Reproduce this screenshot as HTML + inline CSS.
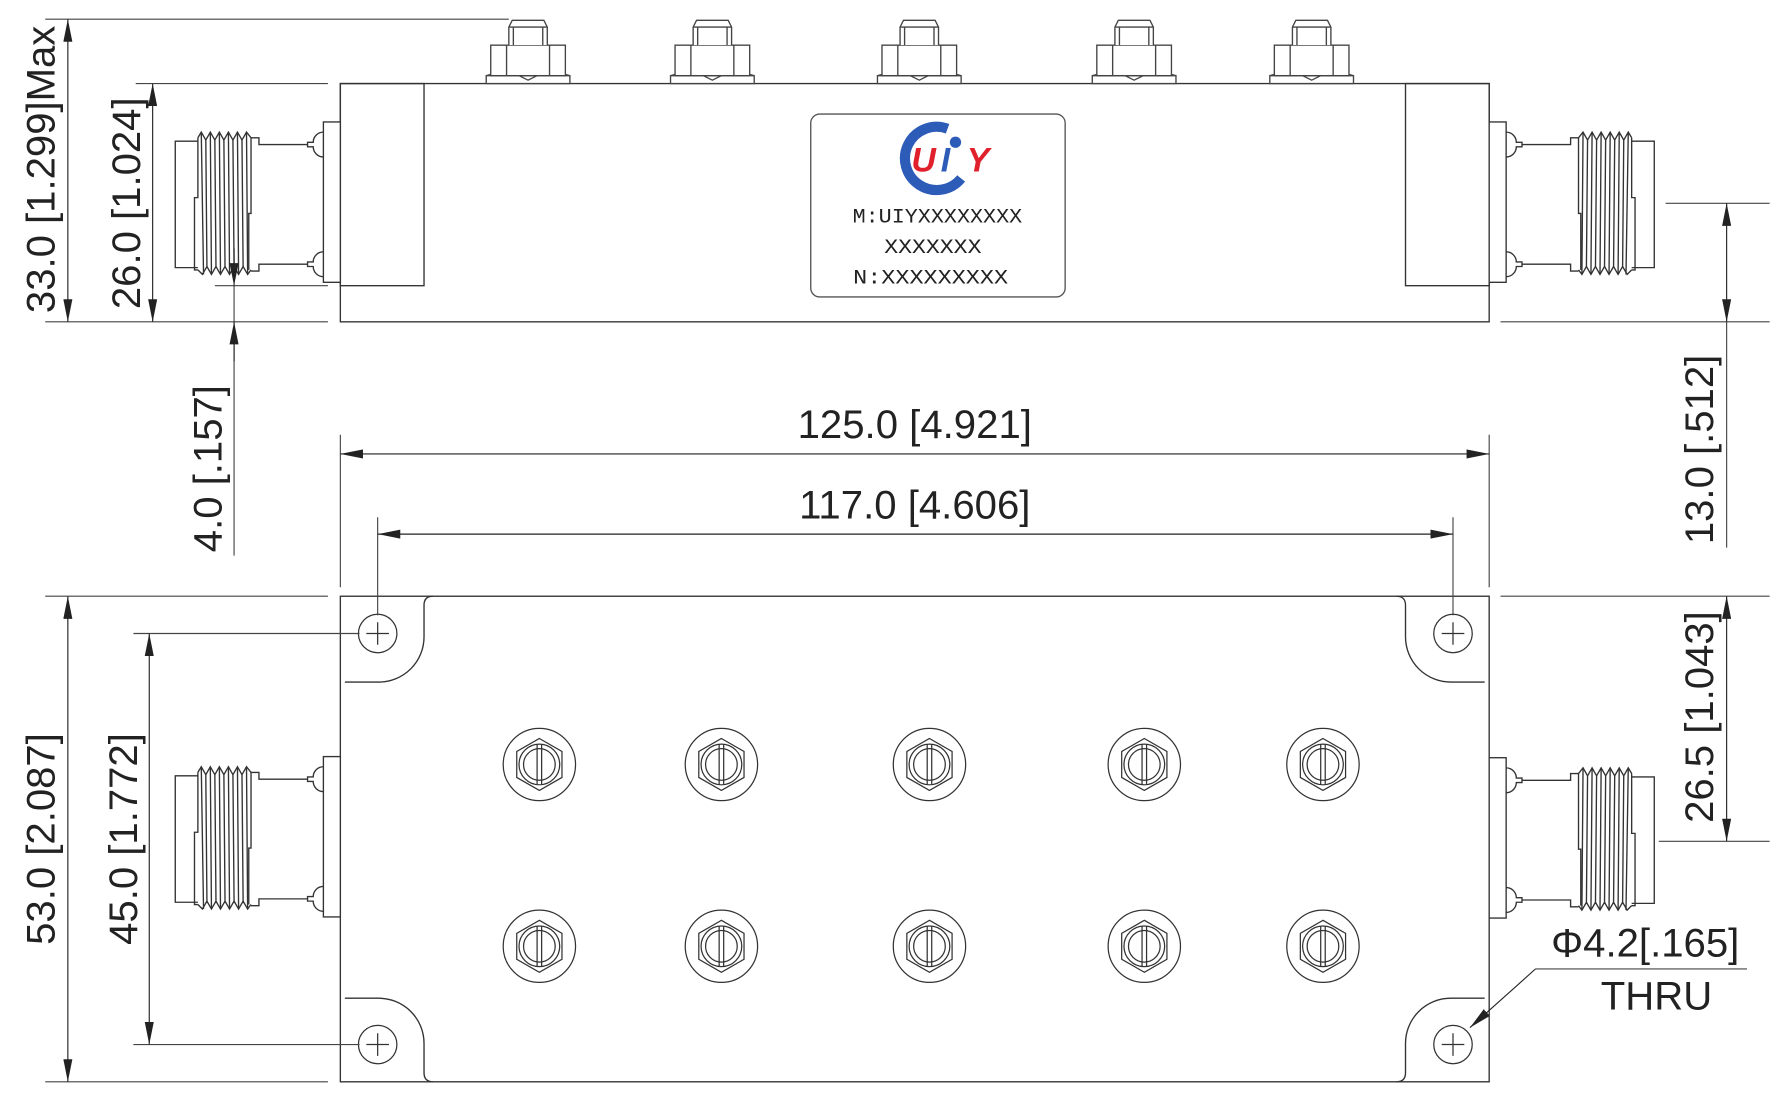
<!DOCTYPE html>
<html><head><meta charset="utf-8"><style>
html,body{margin:0;padding:0;background:#fff;}
svg{display:block}
text{font-family:"Liberation Sans",sans-serif;fill:#222;}
</style></head><body>
<svg width="1773" height="1101" viewBox="0 0 1568 975" preserveAspectRatio="none" xmlns="http://www.w3.org/2000/svg">
<defs>
<marker id="a" viewBox="0 0 20 8" refX="20" refY="4" markerWidth="20" markerHeight="8" orient="auto-start-reverse" markerUnits="userSpaceOnUse"><path d="M0,0 L20,4 L0,8 Z" fill="#222"/></marker>
<g id="conn" fill="none" stroke="#333" stroke-width="1.2">
  <rect x="286" y="-71" width="15" height="142" fill="#fff"/>
  <path d="M286,-62 A9,9 0 0 0 277,-53 L272,-53 L272,-49 L277,-49 A9,9 0 0 0 286,-40"/>
  <path d="M286,44 A9,9 0 0 0 277,53 L272,53 L272,57 L277,57 A9,9 0 0 0 286,66"/>
  <path d="M272,-51 L229,-51 L229,-57 L222,-57"/>
  <path d="M272,55 L229,55 L229,61 L222,61"/>
  <path d="M175,-54 L155,-54 L155,58 L175,58"/>
  <path d="M175,-57 L175,-4 L172,-4 L172,60 L175,60"/>
  <path d="M222,-57 L222,10 L220,10 L220,60"/>
  <path d="M175,-57 L178,-62 L182,-55 L186,-62 L190,-55 L194,-62 L198,-55 L202,-62 L206,-55 L210,-62 L214,-55 L218,-62 L222,-57"/>
  <path d="M175,60 L179,64 L183,57 L187,64 L191,57 L195,64 L199,57 L203,64 L207,57 L211,64 L215,57 L219,64 L222,60"/>
  <path d="M178,-62 L180,64 M182,-55 L183,57 M186,-62 L187,64 M190,-55 L191,57 M194,-62 L195,64 M198,-55 L199,57 M202,-62 L203,64 M206,-55 L207,57 M210,-62 L211,64 M214,-55 L215,57 M218,-62 L219,64"/>
</g>
<g id="nut" fill="#fff" stroke="#444" stroke-width="1.2">
  <path d="M-37,67 L37,67 L37,74 L-37,74 Z"/>
  <path d="M-37,67 L-18,62 L0,71 L18,62 L37,67" fill="none"/>
  <rect x="-33" y="40" width="66" height="27"/>
  <path d="M-19,40 L-19,67 M19,40 L19,67" fill="none"/>
  <path d="M-17,40 L-17,24 L-14,18 L14,18 L17,24 L17,40" />
  <path d="M-13,24 L-13,40 M13,24 L13,40 M-17,24 L17,24" fill="none"/>
</g>
<g id="scr" fill="none" stroke="#333" stroke-width="1.1">
  <circle r="32"/>
  <path d="M0,-23 L20,-11.5 L20,11.5 L0,23 L-20,11.5 L-20,-11.5 Z"/>
  <circle r="18"/>
  <circle r="14"/>
  <path d="M-2,-18 L-2,18 M2,-18 L2,18"/>
</g>
<g id="hole" fill="none" stroke="#333" stroke-width="1.1">
  <circle r="17"/>
  <path d="M-10,0 L10,0 M0,-10 L0,10"/>
</g>
</defs>

<g fill="none" stroke="#333" stroke-width="1.2">
  <rect x="301" y="74" width="1016" height="211"/>
  <rect x="301" y="74" width="74" height="179"/>
  <rect x="1243" y="74" width="74" height="179"/>
  <rect x="717" y="101" width="225" height="162" rx="8" stroke="#555"/>
</g>
<use href="#conn" transform="translate(0,179)"/>
<use href="#conn" transform="translate(1618,179) scale(-1,1)"/>
<use href="#nut" transform="translate(467,0)"/>
<use href="#nut" transform="translate(630,0)"/>
<use href="#nut" transform="translate(813,0)"/>
<use href="#nut" transform="translate(1003,0)"/>
<use href="#nut" transform="translate(1160,0)"/>

<path d="M838,114 A28,28 0 1 0 850,158" fill="none" stroke="#2c5bb8" stroke-width="9"/>
<circle cx="845" cy="126" r="5" fill="#2c5bb8"/>
<text x="806" y="152" font-size="30" font-style="italic" font-weight="bold" style="fill:#e0202a">U</text>
<text x="832" y="152" font-size="30" font-style="italic" font-weight="bold" style="fill:#2c5bb8">I</text>
<text x="855" y="152" font-size="30" font-style="italic" font-weight="bold" style="fill:#e0202a">Y</text>
<g font-size="18">
<text x="829" y="197" text-anchor="middle" style="font-family:'Liberation Mono',monospace" textLength="150" lengthAdjust="spacingAndGlyphs">M:UIYXXXXXXXX</text>
<text x="825" y="224" text-anchor="middle" style="font-family:'Liberation Mono',monospace" textLength="86" lengthAdjust="spacingAndGlyphs">XXXXXXX</text>
<text x="823" y="251" text-anchor="middle" style="font-family:'Liberation Mono',monospace" textLength="137" lengthAdjust="spacingAndGlyphs">N:XXXXXXXXX</text>
</g>

<g fill="none" stroke="#333" stroke-width="1.2">
  <rect x="301" y="528" width="1016" height="430"/>
  <path d="M305,604 L335,604 A40,40 0 0 0 375,564 L375,536 Q375,528 383,528"/>
  <path d="M1313,604 L1283,604 A40,40 0 0 1 1243,564 L1243,536 Q1243,528 1235,528"/>
  <path d="M305,884 L335,884 A40,40 0 0 1 375,924 L375,950 Q375,958 383,958"/>
  <path d="M1313,884 L1283,884 A40,40 0 0 0 1243,924 L1243,950 Q1243,958 1235,958"/>
</g>
<use href="#conn" transform="translate(0,741)"/>
<use href="#conn" transform="translate(1618,742) scale(-1,1)"/>
<use href="#hole" transform="translate(334,561)"/>
<use href="#hole" transform="translate(1285,561)"/>
<use href="#hole" transform="translate(334,925)"/>
<use href="#hole" transform="translate(1285,925)"/>
<use href="#scr" transform="translate(477,677)"/>
<use href="#scr" transform="translate(638,677)"/>
<use href="#scr" transform="translate(822,677)"/>
<use href="#scr" transform="translate(1012,677)"/>
<use href="#scr" transform="translate(1170,677)"/>
<use href="#scr" transform="translate(477,838)"/>
<use href="#scr" transform="translate(638,838)"/>
<use href="#scr" transform="translate(822,838)"/>
<use href="#scr" transform="translate(1012,838)"/>
<use href="#scr" transform="translate(1170,838)"/>

<g fill="none" stroke="#444" stroke-width="1">
  <path d="M40,17 L450,17 M120,74 L290,74 M40,285 L290,285 M190,253 L290,253"/>
  <path d="M1473,180 L1565,180 M1327,285 L1565,285"/>
  <path d="M301,385 L301,520 M1317,385 L1317,520 M334,458 L334,545 M1285,458 L1285,545"/>
  <path d="M40,528 L290,528 M40,958 L290,958 M118,561 L318,561 M118,925 L318,925"/>
  <path d="M1327,528 L1565,528 M1467,745 L1565,745"/>
  <path d="M207,253 L207,492"/>
  <path d="M1527,285 L1527,485"/>
  <path d="M1545,858 L1358,858"/>
</g>
<g fill="none" stroke="#222" stroke-width="1" marker-start="url(#a)" marker-end="url(#a)">
  <path d="M60,17 L60,285"/>
  <path d="M135,74 L135,285"/>
  <path d="M60,528 L60,958"/>
  <path d="M132,561 L132,925"/>
  <path d="M1527,180 L1527,285"/>
  <path d="M1527,528 L1527,745"/>
  <path d="M301,402 L1317,402"/>
  <path d="M334,473 L1285,473"/>
</g>
<g fill="none" stroke="#222" stroke-width="1" marker-end="url(#a)">
  <path d="M207,220 L207,253"/>
  <path d="M207,320 L207,285"/>
  <path d="M1358,858 L1300,910"/>
</g>

<g font-size="35.5">
<text x="809" y="388" text-anchor="middle">125.0 [4.921]</text>
<text x="809" y="459" text-anchor="middle">117.0 [4.606]</text>
<text transform="translate(48,150) rotate(-90)" text-anchor="middle">33.0 [1.299]Max</text>
<text transform="translate(124,180) rotate(-90)" text-anchor="middle">26.0 [1.024]</text>
<text transform="translate(196,415) rotate(-90)" text-anchor="middle">4.0 [.157]</text>
<text transform="translate(1515,398) rotate(-90)" text-anchor="middle">13.0 [.512]</text>
<text transform="translate(48,743) rotate(-90)" text-anchor="middle">53.0 [2.087]</text>
<text transform="translate(121,743) rotate(-90)" text-anchor="middle">45.0 [1.772]</text>
<text transform="translate(1515,635) rotate(-90)" text-anchor="middle">26.5 [1.043]</text>
<text x="1455" y="847" text-anchor="middle">Φ4.2[.165]</text>
<text x="1465" y="894" text-anchor="middle">THRU</text>
</g>
</svg>
</body></html>
